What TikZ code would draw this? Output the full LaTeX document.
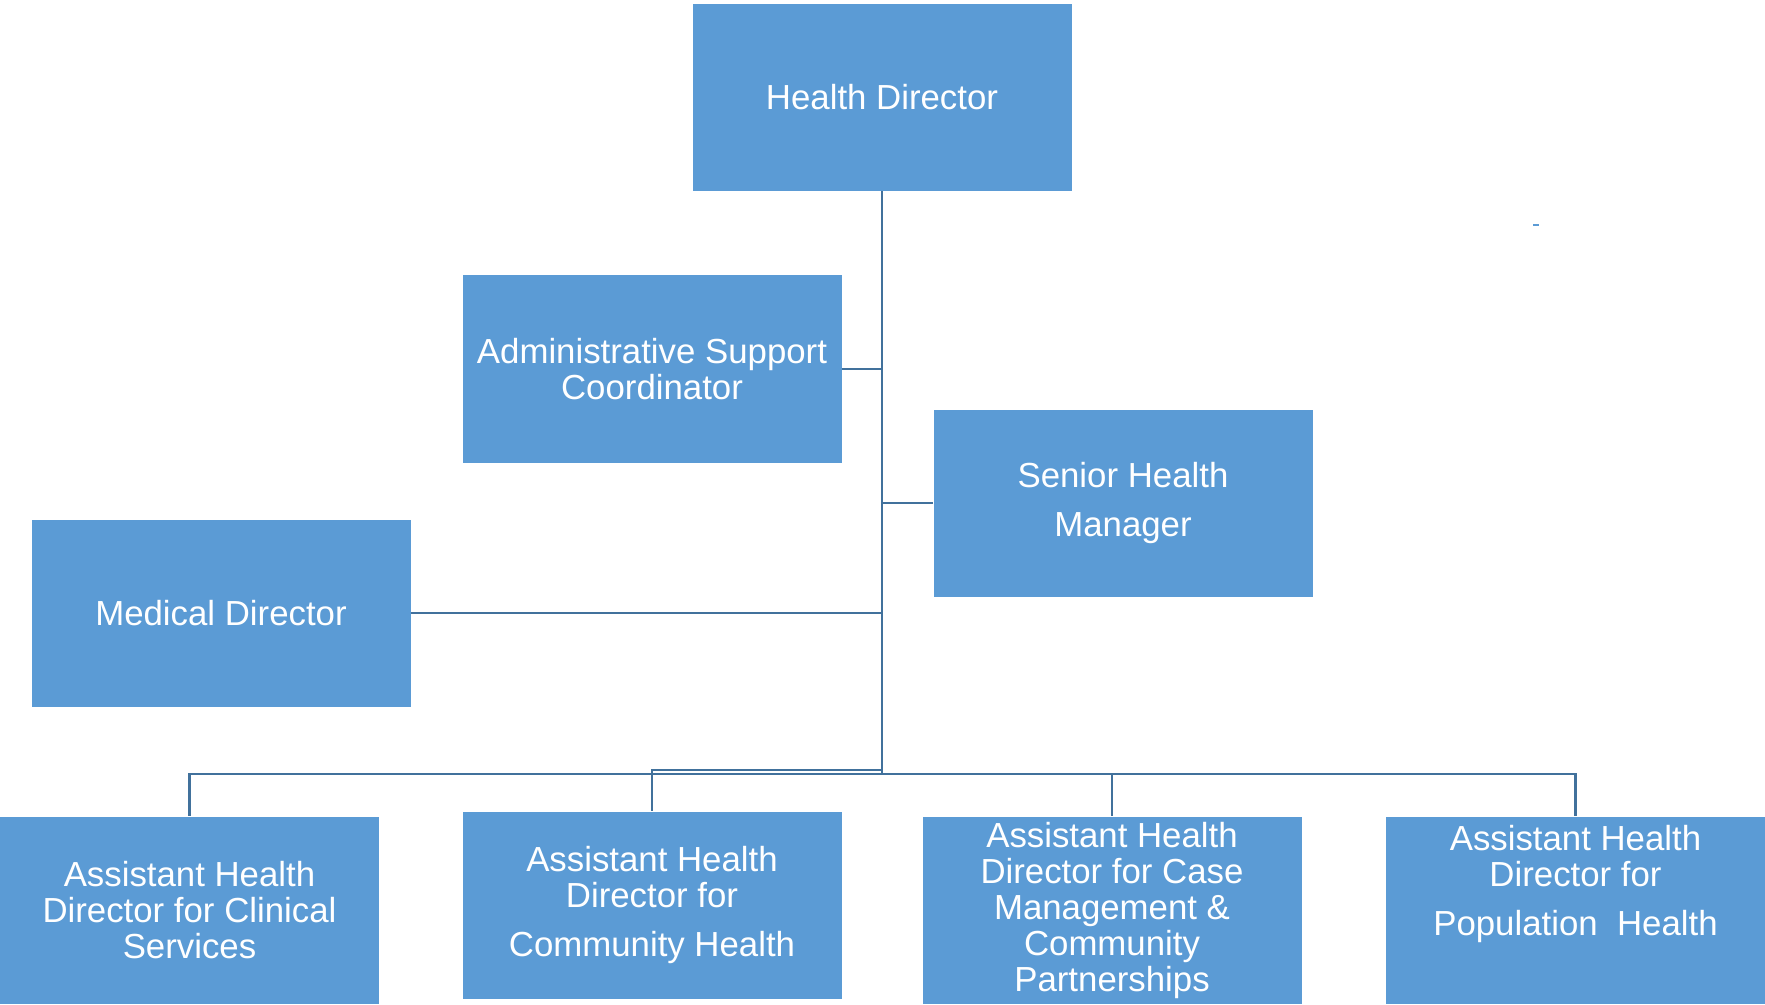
\documentclass[tikz,border=0pt]{standalone}
\usepackage{fontspec}
\setmainfont{Liberation Sans}
\definecolor{boxblue}{HTML}{5B9BD5}
\definecolor{linkblue}{HTML}{41719C}

\begin{document}
\begin{tikzpicture}[x=0.5pt,y=-0.5pt,
		box/.style={fill=boxblue, text=white, align=center, inner sep=0pt,
			minimum width=189.5pt, minimum height=93.5pt,
			font=\fontsize{17.4}{18}\selectfont},
		link/.style={draw=linkblue, line width=1.3pt}]
		\useasboundingbox (0,0) rectangle (1765,1005);
		\node[box] (hd) at (882,97.5) {Health Director};
		\node[box] (admin) at (652,369) {Administrative Support\\Coordinator};
		\node[box] (senior) at (1123,503) {Senior Health\\[6.75pt]Manager};
		\node[box] (med) at (221,613) {Medical Director};
		\node[box] (clin) at (189.5,910) {Assistant Health\\Director for Clinical\\Services};
		\node[box] (comm) at (652,905) {Assistant Health\\Director for\\[6.75pt]Community Health};
		\node[box] (casem) at (1112,910) {Assistant Health\\Director for Case\\Management \&\\Community\\Partnerships};
		\node[box] (pop) at (1575.5,910) {Assistant Health\\Director for\\[6.75pt]Population\ \ Health\\[11.5pt]\mbox{}};
		\coordinate (hub) at (882,774);
		\coordinate (hubc) at (882,770);
		\draw[link] (hd.south) -- (hub);
		\draw[link] (admin.east) -- (admin.east -| hub);
		\draw[link] (senior.west) -- (senior.west -| hub);
		\draw[link] (med.east) -- (med.east -| hub);
		\draw[link] (hub) -| (clin.north);
		\draw[link] (hub) -| (casem.north);
		\draw[link] (hub) -| (pop.north);
		\draw[link] (hubc) -| (comm.north);
		\draw[draw=boxblue, line width=1pt] (1533,225) -- (1539,225);
	\end{tikzpicture}
\end{document}
